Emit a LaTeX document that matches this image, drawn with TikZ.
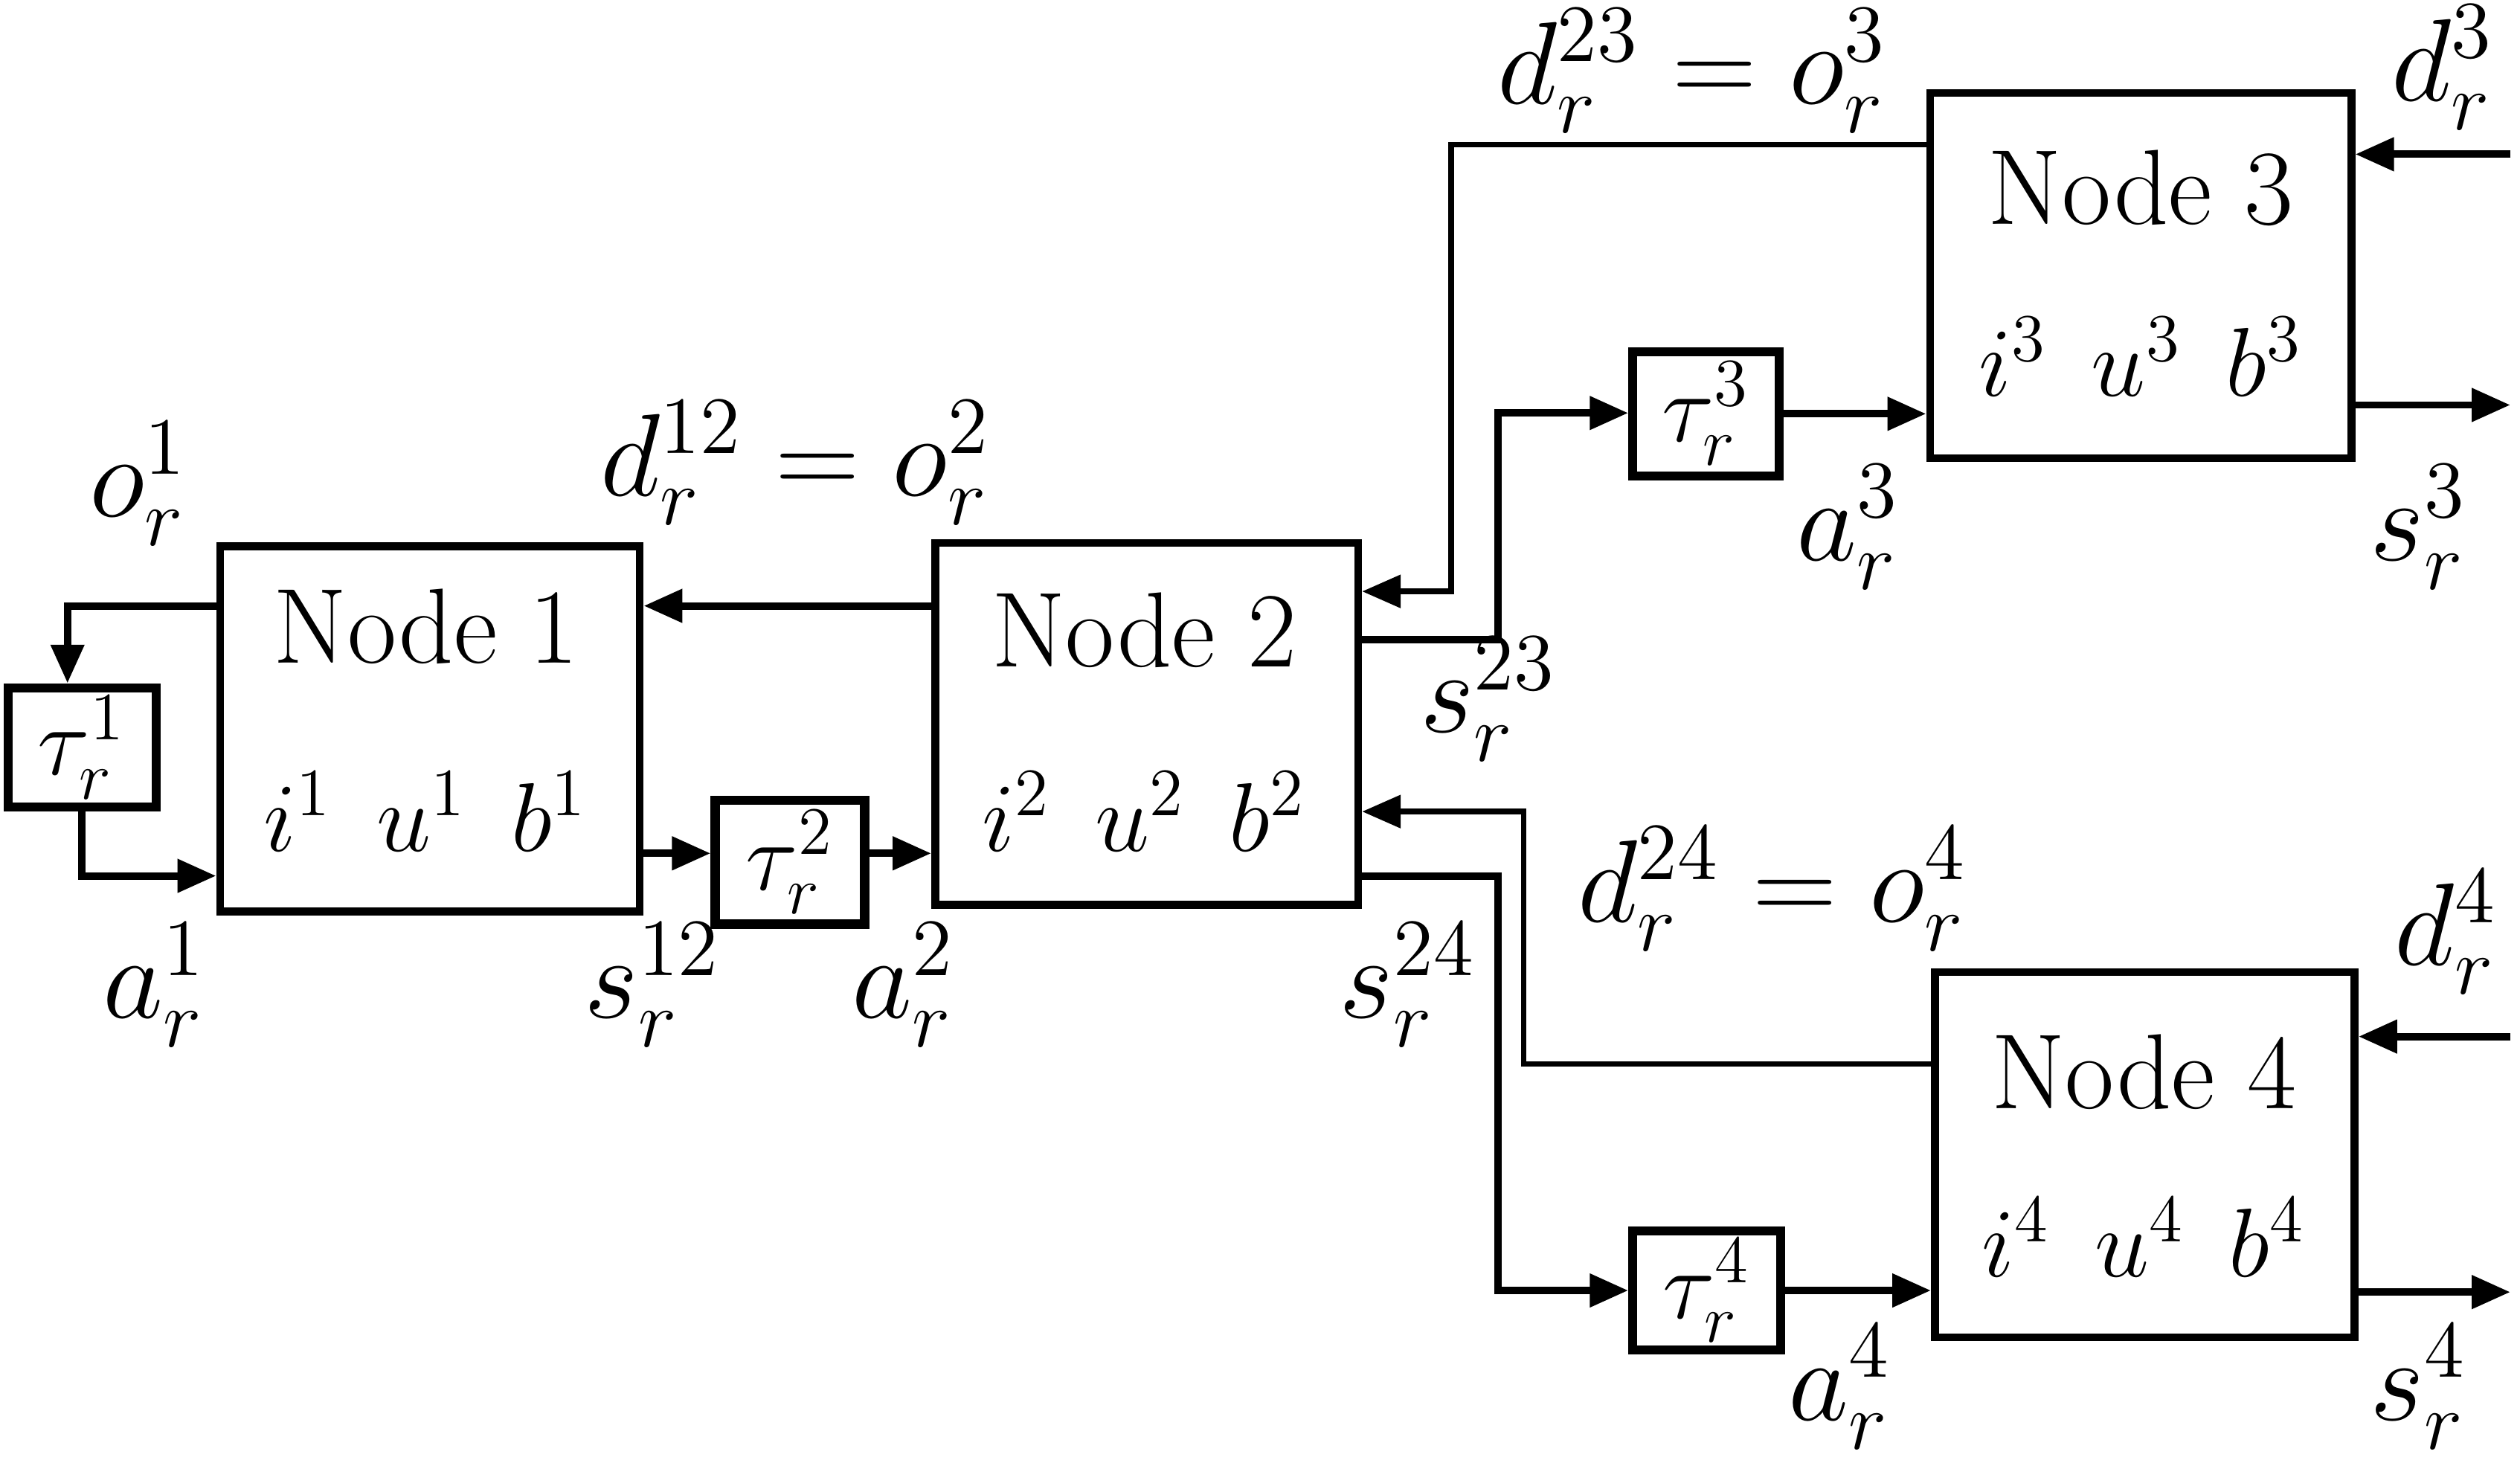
\documentclass[tikz,border=0pt]{standalone}
\usepackage{fontspec}
\DeclareMathSizes{20.74}{20.74}{14.4}{10}
\usetikzlibrary{arrows.meta,calc}
\begin{document}
\begin{tikzpicture}[x=0.01cm,y=-0.01cm,
  every node/.style={font=\fontsize{17.28}{20}\selectfont},
  box/.style={draw,line width=1.4pt,inner sep=0pt},
  tbox/.style={draw,line width=1.6pt,inner sep=0pt},
  arr/.style={line width=1.3pt,-{Triangle[length=0.24cm,width=0.2cm]}},
  thinarr/.style={line width=1pt,-{Triangle[length=0.24cm,width=0.2cm]}},
  ntext/.style={inner sep=0pt,font=\fontsize{18.9}{22}\selectfont},
  lbl/.style={inner sep=0pt,font=\fontsize{20.74}{24}\selectfont}]
\useasboundingbox (0,0) rectangle (1568,910);
% main nodes
\node[box,minimum width=2.61cm,minimum height=2.27cm] (n1) at (267.5,453.5) {};
\node[box,minimum width=2.63cm,minimum height=2.25cm] (n2) at (713.5,450.5) {};
\node[box,minimum width=2.62cm,minimum height=2.27cm] (n3) at (1332,171.5) {};
\node[box,minimum width=2.61cm,minimum height=2.27cm] (n4) at (1334.5,718.5) {};
% delay boxes
\node[tbox,minimum width=0.92cm,minimum height=0.74cm] (t1) at (51,465) {$\tau_r^1$};
\node[tbox,minimum width=0.93cm,minimum height=0.77cm] (t2) at (491.5,536.5) {$\tau_r^2$};
\node[tbox,minimum width=0.91cm,minimum height=0.77cm] (t3) at (1061.5,257.5) {$\tau_r^3$};
\node[tbox,minimum width=0.92cm,minimum height=0.74cm] (t4) at (1062,803) {$\tau_r^4$};
% box texts
\node[ntext] (n1a) at (265,390) {Node 1};
\node[inner sep=0pt] (n1b) at (265,505) {$i^1\hspace{0.45em}u^1\hspace{0.45em}b^1$};
\node[ntext] (n2a) at (712,392) {Node 2};
\node[inner sep=0pt] (n2b) at (712,505) {$i^2\hspace{0.45em}u^2\hspace{0.45em}b^2$};
\node[ntext] (n3a) at (1332,117) {Node 3};
\node[inner sep=0pt] (n3b) at (1332,222) {$i^3\hspace{0.45em}u^3\hspace{0.45em}b^3$};
\node[ntext] (n4a) at (1334,667) {Node 4};
\node[inner sep=0pt] (n4b) at (1334,770) {$i^4\hspace{0.45em}u^4\hspace{0.45em}b^4$};
% coordinates
\coordinate (c1) at (42,377);
\coordinate (c6a) at (903,90);
\coordinate (c6b) at (903,368);
\coordinate (c7a) at (932,398);
\coordinate (c7b) at (932,257);
\coordinate (c11a) at (948,662);
\coordinate (c11b) at (948,505);
\coordinate (c12a) at (932,545);
\coordinate (c12b) at (932,803);
\coordinate (e3o) at (1562,252);
\coordinate (e3i) at (1562,96);
\coordinate (e4o) at (1562,804);
\coordinate (e4i) at (1562,645);
% connectors
\draw[arr] (n1.west|-c1) -- (c1) -- (c1|-t1.north);
\draw[arr] (t1.south) |- (n1.west|-0,545);
\draw[arr] (n2.west|-0,377) -- (n1.east|-0,377);
\draw[arr] (n1.east|-0,531) -- (t2.west|-0,531);
\draw[arr] (t2.east|-0,531) -- (n2.west|-0,531);
\draw[thinarr] (n3.west|-c6a) -- (c6a) -- (c6b) -- (n2.east|-c6b);
\draw[arr] (n2.east|-c7a) -- (c7a) -- (c7b) -- (t3.west|-c7b);
\draw[arr] (t3.east) -- (n3.west|-t3.east);
\draw[arr] (n3.east|-e3o) -- (e3o);
\draw[arr] (e3i) -- (n3.east|-e3i);
\draw[thinarr] (n4.west|-c11a) -- (c11a) -- (c11b) -- (n2.east|-c11b);
\draw[arr] (n2.east|-c12a) -- (c12a) -- (c12b) -- (t4.west|-c12b);
\draw[arr] (t4.east) -- (n4.west|-t4.east);
\draw[arr] (n4.east|-e4o) -- (e4o);
\draw[arr] (e4i) -- (n4.east|-e4i);
% labels
\node[lbl] (lo1) at (86,301) {$o_r^1$};
\node[lbl] (la1) at (96,613) {$a_r^1$};
\node[lbl] (ld12) at (495,288) {$d_r^{12} = o_r^2$};
\node[lbl] (ls12) at (406,613) {$s_r^{12}$};
\node[lbl] (la2) at (562,613) {$a_r^2$};
\node[lbl] (ld23) at (1053,44) {$d_r^{23} = o_r^3$};
\node[lbl] (ld3) at (1520,42) {$d_r^3$};
\node[lbl] (la3) at (1150,328) {$a_r^3$};
\node[lbl] (ls3) at (1505,328) {$s_r^3$};
\node[lbl] (ls23) at (926,435) {$s_r^{23}$};
\node[lbl] (ld24) at (1103,553) {$d_r^{24} = o_r^4$};
\node[lbl] (ls24) at (876,613) {$s_r^{24}$};
\node[lbl] (ld4) at (1522,580) {$d_r^4$};
\node[lbl] (la4) at (1145,863) {$a_r^4$};
\node[lbl] (ls4) at (1505,863) {$s_r^4$};
\end{tikzpicture}
\end{document}
